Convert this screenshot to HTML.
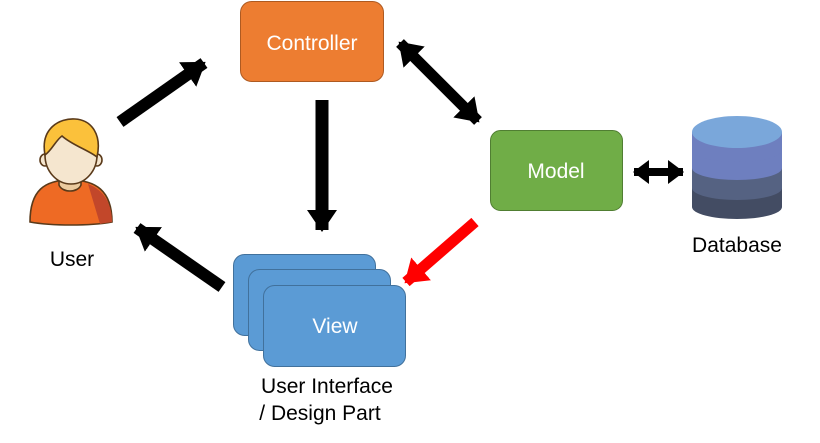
<!DOCTYPE html>
<html><head><meta charset="utf-8"><style>
html,body{margin:0;padding:0;background:#fff;}
svg{display:block;font-family:"Liberation Sans","Noto Sans CJK KR",sans-serif;}
</style></head><body>
<svg width="820" height="443" viewBox="0 0 820 443" xmlns="http://www.w3.org/2000/svg">
<defs>
<marker id="hb" markerUnits="userSpaceOnUse" markerWidth="22" markerHeight="30" refX="20" refY="15" orient="auto-start-reverse"><path d="M0,0 L22,15 L0,30 Z" fill="#000"/></marker>
<marker id="hs" markerUnits="userSpaceOnUse" markerWidth="16" markerHeight="24" refX="15" refY="12" orient="auto-start-reverse"><path d="M0,0 L16,12 L0,24 Z" fill="#000"/></marker>
<marker id="hr" markerUnits="userSpaceOnUse" markerWidth="22" markerHeight="30" refX="20" refY="15" orient="auto"><path d="M0,0 L22,15 L0,30 Z" fill="#f00"/></marker>
</defs>
<!-- Controller -->
<rect x="240.5" y="1.5" width="143" height="80" rx="11" fill="#ED7D31" stroke="#AE5A21"/>
<text x="312" y="50" font-size="21" fill="#fff" text-anchor="middle">Controller</text>
<!-- Model -->
<rect x="490.5" y="130.5" width="132" height="80" rx="10" fill="#70AD47" stroke="#507E32"/>
<text x="556" y="178" font-size="21" fill="#fff" text-anchor="middle">Model</text>
<!-- View stack -->
<rect x="233.5" y="254.5" width="142" height="81" rx="11" fill="#5B9BD5" stroke="#41719C"/>
<rect x="248.5" y="269.5" width="142" height="81" rx="11" fill="#5B9BD5" stroke="#41719C"/>
<rect x="263.5" y="285.5" width="142" height="81" rx="11" fill="#5B9BD5" stroke="#41719C"/>
<text x="335" y="333" font-size="21" fill="#fff" text-anchor="middle">View</text>
<text x="327" y="393" font-size="21" fill="#000" text-anchor="middle">User Interface</text>
<text x="320" y="420" font-size="21" fill="#000" text-anchor="middle">/ Design Part</text>
<!-- Arrows -->
<line x1="120" y1="122" x2="204" y2="63" stroke="#000" stroke-width="12" marker-end="url(#hb)"/>
<line x1="322" y1="100" x2="322" y2="230" stroke="#000" stroke-width="13" marker-end="url(#hb)"/>
<line x1="222" y1="287" x2="137" y2="228" stroke="#000" stroke-width="12" marker-end="url(#hb)"/>
<line x1="400" y1="43" x2="478" y2="121" stroke="#000" stroke-width="11" marker-start="url(#hb)" marker-end="url(#hb)"/>
<line x1="475" y1="222" x2="406" y2="282" stroke="#f00" stroke-width="11" marker-end="url(#hr)"/>
<line x1="634" y1="172" x2="683" y2="172" stroke="#000" stroke-width="8" marker-start="url(#hs)" marker-end="url(#hs)"/>
<!-- Database -->
<path d="M692,188 L692,207 A45,12 0 0 0 782,207 L782,188 Z" fill="#434C63"/>
<path d="M692,168 L692,188 A45,12 0 0 0 782,188 L782,168 Z" fill="#556282"/>
<path d="M692,150 L692,168 A45,12 0 0 0 782,168 L782,150 Z" fill="#6E7FBF"/>
<path d="M692,132 L692,150 A45,12 0 0 0 782,150 L782,132 Z" fill="#6E7FBF"/>
<ellipse cx="737" cy="132" rx="45" ry="16" fill="#7AA7DA"/>
<text x="737" y="252" font-size="21" fill="#000" text-anchor="middle">Database</text>
<!-- User icon -->
<g stroke="#5A3A1A" stroke-width="1.6">
<path d="M30,222 C30,190 45,180 70,180 C95,180 112,190 112,222 C90,226 52,226 30,222 Z" fill="#EE6A24"/>
<path d="M88,184 C104,190 112,204 112,222 C106,223 104,223 100,224 Z" fill="#C2472A" stroke="none"/>
<path d="M59,175 L59,185 C62,193 78,193 81,185 L81,175 Z" fill="#EBCB9F"/>
<ellipse cx="45" cy="160" rx="5" ry="6" fill="#F5E6CF"/>
<ellipse cx="97" cy="160" rx="5" ry="6" fill="#F5E6CF"/>
<ellipse cx="71" cy="155" rx="26" ry="29" fill="#F5E6CF"/>
<path d="M45,155 C40,128 60,118 75,119 C92,120 102,135 97,157 C88,150 72,145 62,136 C56,140 52,150 45,155 Z" fill="#FBC13B"/>
</g>
<text x="72" y="266" font-size="21" fill="#000" text-anchor="middle">User</text>
</svg>
</body></html>
